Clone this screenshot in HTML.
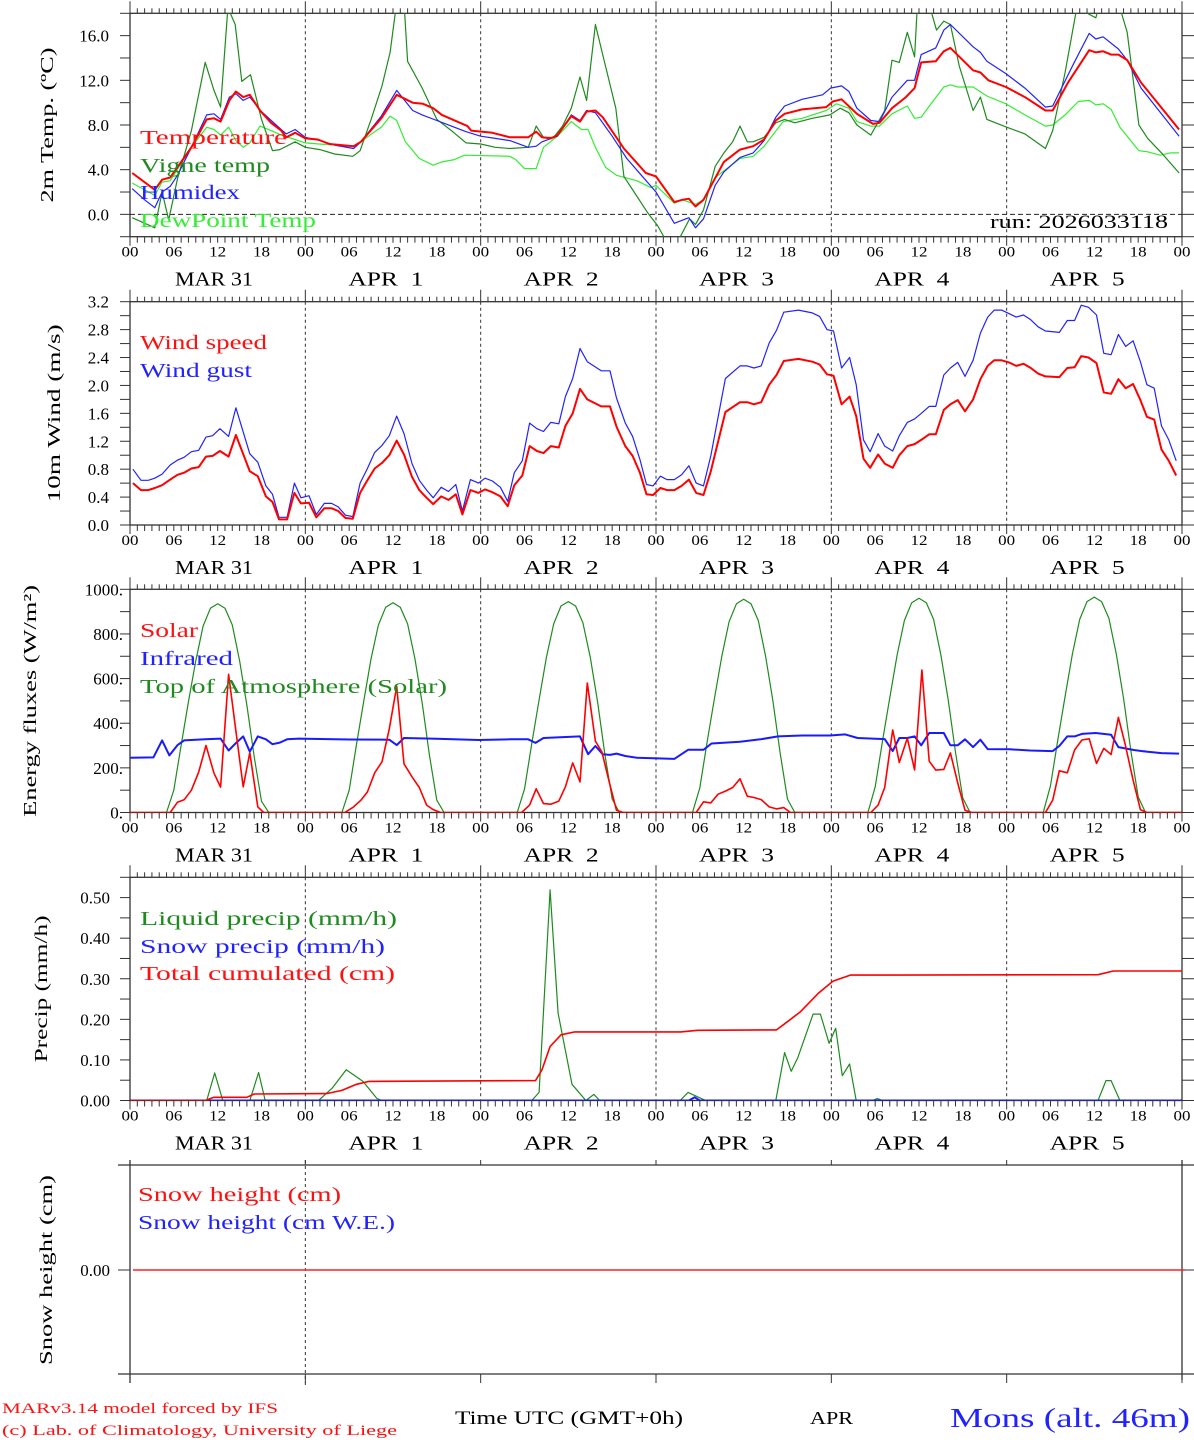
<!DOCTYPE html>
<html><head><meta charset="utf-8">
<style>
html,body{margin:0;padding:0;background:#fff;}
svg{display:block;}
text{font-family:"Liberation Serif",serif;white-space:pre;}
</style></head>
<body>
<svg id="chart" xmlns="http://www.w3.org/2000/svg" width="1194" height="1440" viewBox="0 0 1194 1440">
<rect x="0" y="0" width="1194" height="1440" fill="#fff"/>
<defs>
<clipPath id="cp0"><rect x="130" y="13.3" width="1052" height="223.4"/></clipPath>
<clipPath id="cp1"><rect x="130" y="301.7" width="1052" height="223.3"/></clipPath>
<clipPath id="cp2"><rect x="130" y="589.3" width="1052" height="223.2"/></clipPath>
<clipPath id="cp3"><rect x="130" y="877.3" width="1052" height="223.2"/></clipPath>
</defs>
<g id="layer"></g>
</svg>
<script>
// ---------- DATA ----------
const dayLabels = ["MAR 31","APR  1","APR  2","APR  3","APR  4","APR  5"];
const hourTickLabels = ["00","06","12","18"];
const tempTicks = [0,4,8,12,16];
const windTicks = [0,0.4,0.8,1.2,1.6,2.0,2.4,2.8,3.2];
const energyTicks = [0,200,400,600,800,1000];
const energyTickLabels = ["0.","200.","400.","600.","800.","1000."];
const precipTicks = [0,0.1,0.2,0.3,0.4,0.5];

const tempSeries = [[0.3,3.7],[3.4,2.2],[4.4,3.1],[5.5,3.3],[8.4,6.0],[10.5,8.5],[11.5,8.6],[12.4,8.3],[13.6,10.2],[14.5,11.0],[15.5,10.5],[16.4,10.7],[17.8,9.3],[19.3,8.2],[20.7,7.5],[21.4,6.9],[22.6,7.3],[24,6.8],[25.7,6.7],[27.3,6.3],[30.6,6.1],[31.6,6.5],[34.4,8.6],[36.5,10.7],[38.7,10.0],[40.1,9.9],[41.5,9.5],[42.7,8.9],[46.2,7.9],[46.7,7.5],[49.6,7.3],[52,6.9],[54.5,6.9],[55.6,7.4],[56.4,6.9],[57.6,6.8],[58.5,7.1],[60.4,8.8],[61.6,8.3],[62.5,9.2],[63.7,9.3],[64.7,8.7],[67.6,5.9],[70.6,3.7],[72,3.4],[74.5,1.1],[75.6,1.3],[76.5,1.4],[77.4,0.7],[78.5,1.3],[81.3,4.7],[83.5,5.8],[85.3,6.1],[86.8,6.7],[88.4,8.4],[89.6,9.0],[92,9.4],[95.3,9.6],[96.2,10.1],[97.4,10.3],[99.5,9.0],[101.7,8.1],[102.6,8.2],[104.3,9.5],[106.2,10.5],[107.4,11.3],[108.3,13.6],[110.3,13.7],[111.4,14.6],[112.3,14.9],[115.4,12.9],[116.4,12.7],[117.5,12.0],[119.9,11.4],[122.5,10.5],[125.3,9.3],[126.3,9.3],[128.4,11.8],[131.3,14.7],[132.2,14.5],[133.2,14.6],[134.3,14.3],[135.3,14.3],[136.5,13.8],[138.4,11.8],[143.6,7.6]];
const vigneSeries = [[0.3,-0.3],[3.4,-1.2],[4.4,2.0],[5.3,-0.5],[6.5,3.2],[8.4,7.5],[10.3,13.6],[11.5,11.1],[12.4,9.6],[13.4,18.5],[14.4,17.0],[15.3,11.9],[16.5,12.5],[18,8.5],[19.5,5.7],[20.5,5.8],[22.6,6.5],[24,6.0],[26,5.8],[28,5.4],[30.5,5.2],[31.5,5.7],[33,8.5],[34.5,11.5],[35.6,14.5],[36.5,19],[37.5,19],[38,13.7],[40,11.3],[42,8.5],[44,7.5],[46,6.4],[48,6.3],[50,6.0],[52,5.9],[54.5,6.0],[55.6,7.9],[56.6,6.9],[58,6.9],[59.2,7.9],[60.4,9.5],[61.6,12.3],[62.5,10.2],[63.7,17.0],[65,13.5],[66.5,9.5],[67.6,3.4],[69,2.0],[70.8,0.2],[72.2,-1.0],[73.5,-2.5],[74.7,-2.8],[76.6,-0.4],[77.4,-0.9],[78.5,0.4],[80.1,4.3],[81.3,5.5],[82.5,6.5],[83.5,7.9],[84.5,6.5],[85.3,6.5],[86.8,6.9],[88.4,8.2],[89.6,8.5],[91,8.2],[93.4,8.6],[95.8,8.9],[97.2,9.5],[98.4,9.1],[99.5,8.0],[101.4,7.1],[103.3,9.3],[104.3,13.8],[105.3,13.6],[106.4,16.3],[107.4,14.1],[107.8,19],[109.3,19],[110.4,16.5],[111.4,17.3],[112.3,17.0],[113.5,13.3],[115.4,9.3],[116.4,10.5],[117.3,8.5],[120,7.8],[122.5,7.2],[125.3,5.9],[126.3,7.5],[128,12.7],[129.6,18.5],[132.2,17.6],[132.6,18.5],[135.5,18.5],[136.5,16.3],[138.1,8.0],[139.3,6.8],[141.2,5.5],[143.6,3.7]];
const humidexSeries = [[0.3,2.3],[2,1.3],[3.4,0.6],[4.4,2.0],[5.5,2.5],[6.5,3.5],[8.4,6.0],[10.5,8.9],[11.5,9.0],[12.4,8.5],[13.6,10.5],[14.5,10.8],[15.5,10.2],[16.4,10.5],[18,9.2],[20,8.0],[21.4,7.2],[22.6,7.6],[24,6.9],[26,6.6],[28,6.2],[30.6,5.9],[31.6,6.5],[34.4,8.8],[36.5,11.1],[38.7,9.3],[40,8.9],[42,8.4],[44,7.9],[46,7.4],[48,7.0],[50,6.8],[52,6.6],[54.5,6.0],[55.6,6.1],[56.4,6.5],[58.5,7.0],[60.4,8.9],[61.6,8.4],[62.5,9.3],[63.7,9.1],[66,7.0],[68,5.0],[70,3.5],[72,2.0],[74.5,-0.8],[76.5,-0.3],[77.4,-1.2],[78.5,-0.4],[80.1,2.6],[81.3,3.8],[83.5,5.1],[85.3,5.5],[86.8,6.6],[88.4,8.7],[89.6,9.7],[92,10.3],[94.8,10.7],[95.9,11.3],[97.4,11.5],[98.4,11.0],[99.5,9.5],[101.4,8.4],[102.6,8.3],[104.3,10.5],[106.4,12.0],[107.4,12.0],[108.3,14.3],[110.3,14.9],[111.4,16.5],[112.3,17.0],[115.4,15.0],[116.4,14.5],[117.3,13.7],[119.9,12.6],[122.5,11.3],[125.3,9.6],[126.3,9.7],[129.1,13.4],[131.3,16.2],[132.2,15.7],[133.2,15.9],[135.3,14.8],[136.5,13.8],[138.4,11.3],[143.6,7.0]];
const dewSeries = [[0.3,2.8],[3.4,1.7],[4.4,2.9],[5.5,3.0],[8.4,6.0],[10.5,7.8],[11.5,7.6],[12.4,7.1],[13.5,7.8],[14.5,6.6],[15.5,6.0],[16.4,6.4],[17.8,7.9],[19.3,7.5],[20.7,7.1],[22.6,6.7],[24,6.4],[25.9,6.3],[30.6,6.1],[31.6,6.5],[33.5,7.4],[34.4,7.8],[35.6,8.8],[36.5,8.4],[37.7,6.5],[39.6,5.0],[41.5,4.4],[42.7,4.7],[44.4,4.9],[45.8,5.3],[52,5.2],[52.8,4.9],[54,4.1],[55.6,4.1],[56.6,6.0],[58.5,7.0],[60.4,8.3],[61.8,7.6],[62.7,7.6],[63.7,6.0],[65.1,4.2],[66.6,3.5],[69.4,3.0],[71.3,2.4],[72,2.6],[74.5,1.0],[75.6,1.3],[77.4,0.9],[78.5,1.3],[80.1,3.3],[83.5,5.0],[85.3,5.2],[86.8,6.1],[89.4,8.3],[92,8.6],[95.3,9.3],[96.7,9.9],[98.4,9.5],[99.5,8.3],[101.4,7.9],[102.6,7.9],[104.3,9.0],[106.4,9.7],[107.4,8.6],[108.3,8.7],[109.3,9.6],[111.4,11.4],[112.3,11.6],[113.3,11.4],[115.4,11.4],[117.3,10.6],[119.9,9.9],[122.5,8.9],[125.3,7.9],[126.3,8.0],[128,8.9],[129.8,10.1],[131.3,10.2],[132.2,9.8],[133.2,9.9],[134.3,9.4],[135.5,7.8],[138.1,5.7],[139.3,5.6],[141,5.3],[142.4,5.5],[143.6,5.5]];

const windHours = [0.4,1.5,2.5,3.4,4.4,5.5,6.5,7.4,8.4,9.4,10.4,11.3,12.3,13.5,14.5,16.4,17.5,18.6,19.5,20.4,21.5,22.5,23.4,24.5,25.5,26.6,27.6,28.5,29.5,30.5,31.5,32.5,33.5,34.5,35.5,36.5,37.5,38.6,39.6,40.6,41.5,42.6,43.6,44.6,45.5,46.6,47.7,48.6,49.6,50.7,51.7,52.6,53.7,54.7,55.7,56.6,57.6,58.7,59.6,60.6,61.6,62.6,64.5,65.7,66.6,67.8,68.8,69.8,70.7,71.6,72.6,73.5,74.5,75.5,76.5,77.5,78.5,79.5,81.5,83.5,84.5,85.4,86.4,87.5,88.5,89.5,91.5,93.4,94.4,95.4,96.3,97.4,98.5,99.4,100.4,101.3,102.4,103.3,104.4,105.3,106.4,107.4,108.3,109.4,110.3,111.4,112.3,113.3,114.3,115.4,116.4,117.4,118.3,119.3,120.3,121.3,122.3,123.3,124.3,125.3,127.2,128.3,129.3,130.2,131.2,132.3,133.3,134.3,135.3,136.3,137.3,138.3,139.2,140.2,141.2,142.2,143.2];
const windSpeed = [0.60,0.50,0.50,0.53,0.57,0.65,0.72,0.75,0.81,0.83,0.98,0.99,1.06,0.98,1.29,0.77,0.70,0.41,0.33,0.08,0.08,0.46,0.31,0.32,0.11,0.24,0.24,0.20,0.10,0.09,0.46,0.64,0.81,0.89,1.00,1.21,1.01,0.69,0.50,0.39,0.30,0.41,0.36,0.44,0.15,0.50,0.46,0.51,0.47,0.41,0.27,0.57,0.71,1.13,1.06,1.03,1.13,1.11,1.42,1.60,1.95,1.80,1.70,1.70,1.41,1.13,0.99,0.75,0.44,0.43,0.53,0.50,0.50,0.56,0.65,0.46,0.43,0.77,1.62,1.76,1.76,1.73,1.76,2.01,2.15,2.35,2.38,2.34,2.30,2.16,2.14,1.73,1.84,1.56,0.95,0.82,1.01,0.88,0.82,1.00,1.13,1.16,1.22,1.30,1.30,1.65,1.73,1.79,1.63,1.80,2.09,2.28,2.36,2.36,2.33,2.28,2.31,2.25,2.17,2.13,2.12,2.25,2.26,2.42,2.40,2.32,1.90,1.88,2.09,1.96,2.02,1.79,1.55,1.51,1.08,0.92,0.71];
const windGust = [0.80,0.64,0.64,0.67,0.73,0.86,0.93,0.97,1.05,1.07,1.26,1.28,1.38,1.27,1.68,1.02,0.90,0.56,0.44,0.11,0.11,0.60,0.39,0.42,0.15,0.31,0.31,0.26,0.14,0.12,0.60,0.81,1.04,1.14,1.28,1.56,1.31,0.88,0.64,0.50,0.39,0.54,0.48,0.58,0.20,0.65,0.60,0.67,0.63,0.54,0.34,0.75,0.92,1.46,1.38,1.34,1.47,1.45,1.84,2.10,2.53,2.34,2.21,2.21,1.82,1.46,1.27,0.94,0.58,0.56,0.70,0.65,0.65,0.72,0.85,0.60,0.56,0.99,2.10,2.28,2.28,2.25,2.28,2.61,2.79,3.05,3.08,3.04,2.99,2.80,2.78,2.25,2.40,2.01,1.22,1.05,1.31,1.13,1.06,1.28,1.47,1.52,1.60,1.70,1.70,2.15,2.25,2.33,2.13,2.36,2.75,2.98,3.08,3.08,3.03,2.98,3.01,2.94,2.84,2.78,2.76,2.93,2.93,3.15,3.12,3.01,2.46,2.44,2.73,2.56,2.64,2.34,2.01,1.96,1.42,1.22,0.92];

const solarSeries = [[0,0],[5.5,0],[6.5,46],[7.4,57],[8.4,100],[9.4,181],[10.4,300],[11.5,176],[12.4,114],[13.5,619],[14.5,365],[15.5,115],[16.4,268],[17.5,25],[18.3,0],[29.4,0],[30.6,25],[31.6,55],[32.5,92],[33.5,178],[34.5,227],[35.5,375],[36.5,565],[37.5,218],[38.6,160],[39.6,112],[40.6,33],[41.5,13],[42.5,0],[53.6,0],[54.7,33],[55.6,106],[56.6,40],[57.6,37],[58.7,51],[59.6,115],[60.6,222],[61.6,137],[62.6,580],[63.7,320],[64.6,271],[65.7,123],[66.6,10],[67.5,0],[77.5,0],[78.5,48],[79.5,43],[80.5,82],[81.5,96],[82.5,112],[83.5,151],[84.5,73],[85.4,67],[86.4,58],[87.5,25],[88.5,16],[89.5,22],[90.4,0],[101.4,0],[102.4,33],[103.3,112],[104.4,370],[105.3,224],[106.4,333],[107.4,191],[108.4,638],[109.4,230],[110.3,190],[111.4,193],[112.3,267],[113.3,133],[114.3,10],[115.2,0],[125.3,0],[126.3,55],[127.2,187],[128.3,178],[129.3,280],[130.3,325],[131.3,330],[132.3,220],[133.3,287],[134.3,260],[135.3,426],[136.2,309],[137.3,145],[138.3,13],[139.2,0],[144,0]];
const infraredSeries = [[0,245],[3.2,247],[4.4,323],[5.4,256],[6.5,302],[7.4,323],[10.3,328],[12.4,331],[13.5,278],[14.5,311],[15.5,341],[16.4,273],[17.5,341],[18.6,328],[19.5,306],[20.5,313],[21.5,328],[23.1,331],[30,327],[35.5,326],[36.5,302],[37.5,334],[42,330],[47.7,325],[52,328],[54.5,328],[55.5,312],[56.6,334],[61.6,341],[62.7,261],[63.7,298],[64.7,261],[65.7,258],[66.6,264],[67.8,253],[69.4,245],[74.5,240],[76.4,281],[78.5,281],[79.6,309],[83.5,317],[86.3,328],[88.7,341],[92,345],[95.8,345],[97.9,350],[99.6,334],[103.3,329],[104.4,275],[105.3,334],[106.4,334],[107.4,341],[108.3,301],[109.4,356],[111.4,356],[112.3,301],[113.3,301],[114.3,328],[115.4,293],[116.4,326],[117.4,284],[120.4,283],[123.2,278],[126.3,275],[127.2,298],[128.3,341],[129.3,341],[130.3,352],[132.2,356],[134.3,348],[135.3,293],[137.4,280],[139.3,272],[141.2,266],[143.6,264]];
const toaHourly = [
0,0,0,0,0,0,100,300,495,680,835,915,935,915,840,680,480,250,50,0,0,0,0,0,
0,0,0,0,0,0,100,305,500,690,840,920,940,920,845,690,490,255,55,0,0,0,0,0,
0,0,0,0,0,0,105,310,505,695,845,925,945,925,850,695,495,260,60,0,0,0,0,0,
0,0,0,0,0,0,110,315,510,700,855,935,955,935,860,700,500,265,60,0,0,0,0,0,
0,0,0,0,0,0,115,320,515,705,860,940,960,940,865,705,505,270,65,0,0,0,0,0,
0,0,0,0,0,0,120,325,520,710,865,945,965,945,870,710,510,275,70,0,0,0,0,0,0];

const liquidSeries = [[0,0],[10.5,0],[11.6,0.068],[12.7,0],[16.4,0],[17.6,0.069],[18.5,0],[25.8,0],[27.7,0.031],[29.6,0.076],[31.9,0.047],[33.8,0.005],[34.5,0],[55,0],[56,0.02],[57.5,0.519],[58.6,0.215],[60.5,0.04],[62.4,0],[63.5,0.015],[64.3,0],[75.3,0],[76.4,0.02],[78.8,0],[88.4,0],[89.6,0.118],[90.5,0.072],[91.4,0.105],[93.5,0.213],[94.5,0.213],[95.7,0.141],[96.6,0.178],[97.5,0.061],[98.5,0.09],[99.4,0],[101.6,0],[102.3,0.005],[103,0],[132.5,0],[133.6,0.049],[134.3,0.049],[135.5,0],[144,0]];
const snowPrecipSeries = [[0,0],[76.5,0],[77.3,0.008],[78,0],[144,0]];
const totalSeries = [[0,0],[10.3,0],[11.5,0.008],[16,0.008],[17,0.016],[26.9,0.017],[29,0.025],[31,0.04],[32.7,0.047],[55.5,0.049],[56.4,0.076],[57.5,0.133],[59,0.162],[60.9,0.169],[75.4,0.169],[77.7,0.173],[88.5,0.174],[89.9,0.193],[91.8,0.219],[94.2,0.264],[96.2,0.294],[98.6,0.309],[132.5,0.31],[134.6,0.319],[144,0.319]];
const snowHeightSeries = [[0,0],[144,0]];

// ---------- DRAWING ----------
const NS="http://www.w3.org/2000/svg";
const layer=document.getElementById('layer');
const X0=130, X1=1182;
function xs(h){return X0+h*(X1-X0)/144;}
const P=[
 {top:13.3,bot:236.7,min:-2,max:18},
 {top:301.7,bot:525,min:0,max:3.2},
 {top:589.3,bot:812.5,min:0,max:1000},
 {top:877.3,bot:1100.5,min:0,max:0.55}
];
function ys(p,v){return p.bot-(v-p.min)/(p.max-p.min)*(p.bot-p.top);}
function mk(tag,attrs,parent){const e=document.createElementNS(NS,tag);for(const k in attrs)e.setAttribute(k,attrs[k]);(parent||layer).appendChild(e);return e;}
function line(x1,y1,x2,y2,stroke,w,dash){const l=mk('line',{x1:x1,y1:y1,x2:x2,y2:y2,stroke:stroke,'stroke-width':w||1});if(dash)l.setAttribute('stroke-dasharray',dash);return l;}
function txt(s,x,y,size,fill,anchor,len){const t=mk('text',{x:x,y:y,'font-size':size,fill:fill,'text-anchor':anchor||'start'});t.style.whiteSpace='pre';if(len){t.setAttribute('textLength',len);t.setAttribute('lengthAdjust','spacingAndGlyphs');}t.textContent=s;return t;}
function series(pts,pi,color,w,name){
  const p=P[pi];
  const d=pts.map(q=>xs(q[0]).toFixed(1)+','+ys(p,q[1]).toFixed(1)).join(' ');
  const el=mk('polyline',{points:d,fill:'none',stroke:color,'stroke-width':w,'stroke-linejoin':'round','clip-path':'url(#cp'+pi+')'});
  
  
  return el;
}
const AX='#333';
function frame(pi,ticks,labels,minorStep,labelRight,title,titleX,titleLen){
  const p=P[pi];
  const g=mk('g',{});
  
  
  for(let d=1;d<6;d++){const l=line(xs(d*24),p.top,xs(d*24),p.bot,AX,1,'3,3');}
  const r=mk('rect',{x:X0,y:p.top,width:X1-X0,height:p.bot-p.top,fill:'none',stroke:AX,'stroke-width':1.3});
  
  
  for(let h=0;h<=144;h++){
    const day=h%24===0;
    line(xs(h),p.top-(day?12:5),xs(h),p.top,AX,1);
    line(xs(h),p.bot,xs(h),p.bot+(day?9:6),AX,1);
  }
  for(let h=0;h<=144;h+=6){
    const t=txt(hourTickLabels[(h/6)%4],xs(h),p.bot+20,15,'#000','middle',17);
    
    
  }
  for(let d=0;d<6;d++){
    const t=txt(dayLabels[d],xs(d*24)+(d===0?45:43),p.bot+49,20,'#000','start',d===0?78:75);
    
    
  }
  for(let v=p.min;v<=p.max+1e-9;v+=minorStep){
    const y=ys(p,v);
    line(120,y,X0,y,AX,1);line(X1,y,1194,y,AX,1);
  }
  ticks.forEach((v,i)=>{
    const t=txt(labels[i],labelRight,ys(p,v)+6,17,'#000','end');
    
    
  });
  const cy=(p.top+p.bot)/2;
  const tt=txt(title,0,0,18,'#000','middle',titleLen);
  tt.setAttribute('transform','translate('+titleX+','+cy+') rotate(-90)');
  
  
}
function legend(s,x,y,color,len){const t=txt(s,x,y,20,color,'start',len);return t;}

// Panel 0: temperature
frame(0,tempTicks,tempTicks.map(v=>v.toFixed(1)),2,109,'2m Temp. (\u00BAC)',53,155);
const z=line(X0,ys(P[0],0),X1,ys(P[0],0),'#222',1,'5,3');


series(dewSeries,0,'#33ee33',1.2,'dewpoint-line');
series(vigneSeries,0,'#1f8a1f',1.2,'vigne-temp-line');
series(humidexSeries,0,'#2222ff',1.2,'humidex-line');
series(tempSeries,0,'#ff0000',2,'temperature-line');
legend('Temperature',140,144,'#ff1010',147);
legend('Vigne temp',140,172,'#1f8a1f',130);
legend('Humidex',140,199,'#2222ff',100);
legend('DewPoint Temp',140,227,'#33ee33',176);
const run=txt('run: 2026033118',990,228,19,'#000','start',178);



// Panel 1: wind
frame(1,windTicks,windTicks.map(v=>v.toFixed(1)),0.2,109,'10m Wind (m/s)',60,178);
series(windHours.map((h,i)=>[h,windGust[i]]),1,'#2222ff',1.2,'wind-gust-line');
series(windHours.map((h,i)=>[h,windSpeed[i]]),1,'#ff0000',2,'wind-speed-line');
legend('Wind speed',140,349,'#ff1010',127);
legend('Wind gust',140,377,'#2222ff',112);

// Panel 2: energy
frame(2,energyTicks,energyTickLabels,100,123,'Energy fluxes (W/m\u00B2)',36,232);
series(toaHourly.map((v,h)=>[h,v]),2,'#1f8a1f',1.2,'toa-solar-line');
series(infraredSeries,2,'#1a1aff',2,'infrared-line');
series(solarSeries,2,'#ff0000',1.6,'solar-line');
legend('Solar',140,637,'#ff1010',58);
legend('Infrared',140,665,'#2222ff',93);
legend('Top of Atmosphere (Solar)',140,693,'#1f8a1f',307);

// Panel 3: precip
frame(3,precipTicks,precipTicks.map(v=>v.toFixed(2)),0.05,110,'Precip (mm/h)',47,147);
series(liquidSeries,3,'#1f8a1f',1.2,'liquid-precip-line');
series(snowPrecipSeries,3,'#1a1aff',2,'snow-precip-line');
series(totalSeries,3,'#ff0000',1.6,'total-cumulated-line');
legend('Liquid precip (mm/h)',140,925,'#1f8a1f',257);
legend('Snow precip (mm/h)',140,953,'#2222ff',245);
legend('Total cumulated (cm)',140,980,'#ff1010',255);

// Panel 4: snow height
(function(){
  const top=1165,bot=1374,y0=1270;
  const dl=line(xs(24),1160,xs(24),1385,AX,1,'3,3');
  
  
  line(118,top,1194,top,AX,1.2);line(118,bot,1194,bot,AX,1.2);
  const la=line(X0,1160,X0,1383,AX,1.3);
  
  
  line(X1,1160,X1,1380,AX,1.3);
  for(let d=0;d<=6;d++){line(xs(d*24),1160,xs(d*24),top,AX,1);line(xs(d*24),bot,xs(d*24),1383,AX,1);}
  line(118,y0,X0,y0,AX,1);line(X1,y0,1194,y0,AX,1);
  const tl=txt('0.00',110,y0+6,17,'#000','end');
  
  
  const yv=v=>y0-v*50;
  const sl=mk('polyline',{points:snowHeightSeries.map(q=>(xs(q[0])+3).toFixed(1)+','+yv(q[1])).join(' '),fill:'none',stroke:'#ff2020','stroke-width':1.5});
  
  
  const tt=txt('Snow height (cm)',0,0,18,'#000','middle',190);
  tt.setAttribute('transform','translate(52,1270) rotate(-90)');
  
  
  legend('Snow height (cm)',138,1201,'#ff1010',203);
  legend('Snow height (cm W.E.)',138,1229,'#2222ff',257);
})();

// Footer
const f1=txt('MARv3.14 model forced by IFS',2,1413,15,'#ff1010','start',276);


const f2=txt('(c) Lab. of Climatology, University of Liege',2,1435,15,'#ff1010','start',395);


const f3=txt('Time UTC (GMT+0h)',455,1424,19,'#000','start',228);


const f4=txt('APR',810,1424,18,'#000','start',43);


const f5=txt('Mons (alt. 46m)',950,1427,27,'#2222ff','start',240);


</script>
</body></html>
